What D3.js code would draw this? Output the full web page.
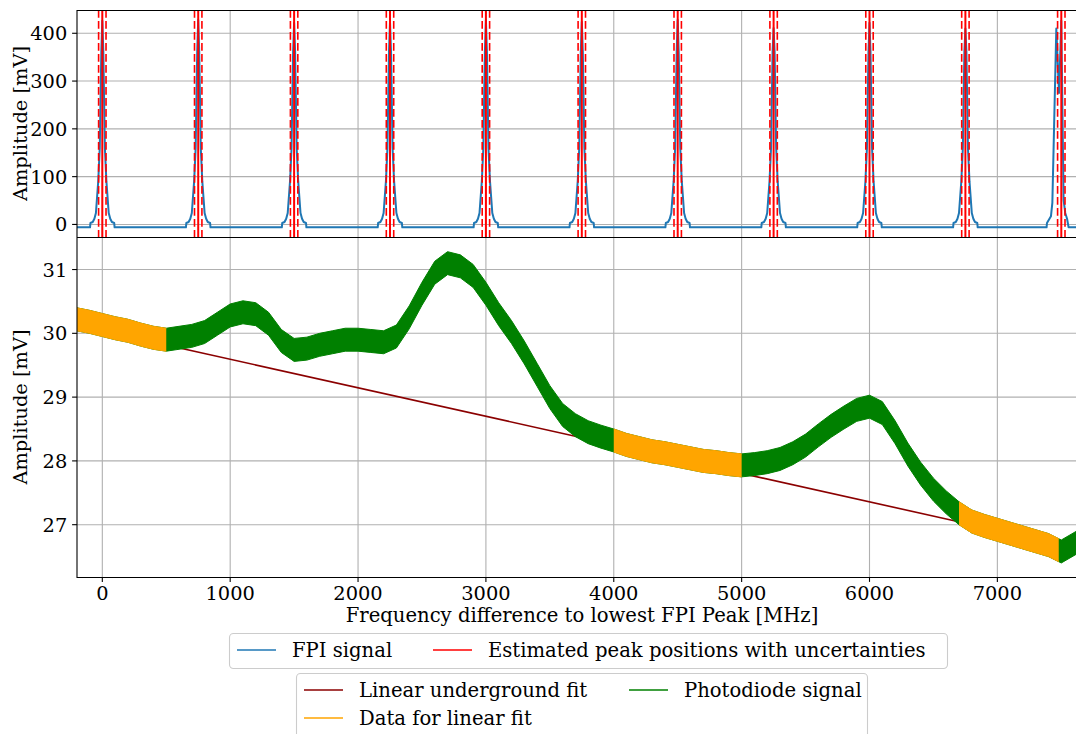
<!DOCTYPE html>
<html>
<head>
<meta charset="utf-8">
<script src="https://cdn.jsdelivr.net/npm/d3@7"></script>
<style>
	body { margin: 0; background: #fff; }
	text { font-family: "DejaVu Serif", serif; fill: #000; }
</style>
</head>
<body>
<div id="chart"></div>
<script>
// FPI transmission peaks (top panel)
const fpiBase = -6;
const peakPositions = [0, 750, 1500, 2250, 3000, 3750, 4500, 5250, 6000, 6750, 7500];
const peakUncertainty = [29, 29, 29, 29, 29, 29, 29, 29, 29, 29, 29];
const peakHeights = [426, 428, 422, 424, 428, 424, 428, 411, 422, 410];
// shape of one peak: offset from centre [MHz] and amplitude [mV]
const profileOffset = [-96, -93, -75, -62, -50, -32, -20, -8, 0, 8, 20, 32, 50, 62, 75, 93, 96];
const profileValue  = [-6, 3, 5, 12, 24, 90, 160, 360, 420, 360, 160, 90, 24, 12, 5, 3, -6];
// last peak is split in two
const lastPeakOffset = [-115, -112, -81, -70, -39, -18, 0, 18, 31, 45, 51, 57];
const lastPeakValue  = [-6, 3, 17, 45, 410, 275, 426, 51, 24, 12, 3, -6];

// photodiode signal (bottom panel), centre of the noisy band and its half spread
const pdFreq = [-200, -100, 0, 100, 200, 300, 400, 500, 600, 700, 800, 900, 1000, 1100, 1200, 1300, 1400, 1500,
	1600, 1700, 1800, 1900, 2000, 2100, 2200, 2300, 2400, 2500, 2600, 2700, 2800, 2900, 3000, 3100, 3200, 3300,
	3400, 3500, 3600, 3700, 3800, 3900, 4000, 4100, 4200, 4300, 4400, 4500, 4600, 4700, 4800, 4900, 5000, 5100,
	5200, 5300, 5400, 5500, 5600, 5700, 5800, 5900, 6000, 6100, 6200, 6300, 6400, 6500, 6600, 6700, 6800, 6900,
	7000, 7100, 7200, 7300, 7400, 7500, 7620];
const pdMid = [30.22, 30.18, 30.13, 30.08, 30.04, 29.98, 29.93, 29.90, 29.93, 29.96, 30.02, 30.15, 30.28, 30.33, 30.30, 30.15, 29.88, 29.74,
	29.76, 29.82, 29.86, 29.90, 29.90, 29.88, 29.86, 29.95, 30.25, 30.62, 30.95, 31.10, 31.05, 30.90, 30.62, 30.30, 30.02, 29.70,
	29.35, 29.00, 28.72, 28.56, 28.45, 28.38, 28.32, 28.25, 28.20, 28.15, 28.12, 28.08, 28.04, 28.00, 27.98, 27.95, 27.93, 27.95,
	27.98, 28.03, 28.12, 28.24, 28.40, 28.55, 28.68, 28.80, 28.85, 28.75, 28.45, 28.10, 27.80, 27.55, 27.35, 27.18, 27.05, 26.98,
	26.92, 26.86, 26.80, 26.74, 26.68, 26.58, 26.72];
const pdSpread = 0.18;
const fitRanges = [[-200, 500], [4000, 5000], [6700, 7480]];
// linear underground fit: value at 0 MHz and slope per MHz
const fitIntercept = 30.04;
const fitSlope = -0.000447;

const xTicks = [0, 1000, 2000, 3000, 4000, 5000, 6000, 7000];
const topTicks = [0, 100, 200, 300, 400];
const bottomTicks = [27, 28, 29, 30, 31];

const width = 1076, height = 734;
const left = 77, right = 1076;
const topY0 = 10, topY1 = 237, botY1 = 577;
const fs = 19.4;

const svg = d3.select('#chart').append('svg')
	.attr('width', width)
	.attr('height', height);
svg.append('rect').attr('width', width).attr('height', height).attr('fill', '#fff');

const x = d3.scaleLinear().domain([-198, 7615]).range([left, right]);
const yTop = d3.scaleLinear().domain([-26.3, 448.7]).range([topY1, topY0]);
const yBot = d3.scaleLinear().domain([26.18, 31.51]).range([botY1, topY1]);

const defs = svg.append('defs');
const addClip = (id, x0, y0, x1, y1) => {
	defs.append('clipPath').attr('id', id)
		.append('rect').attr('x', x0).attr('y', y0).attr('width', x1 - x0).attr('height', y1 - y0);
};
addClip('clip-top', left, topY0, right, topY1);
addClip('clip-bot', left, topY1, right, botY1);

// grids
const grid = (y, ticks, y0, y1) => {
	const g = svg.append('g');
	g.selectAll('.vg').data(xTicks).enter().append('line')
		.attr('x1', d => x(d)).attr('x2', d => x(d))
		.attr('y1', y0).attr('y2', y1)
		.attr('stroke', '#b0b0b0').attr('stroke-width', 1.1);
	g.selectAll('.hg').data(ticks).enter().append('line')
		.attr('x1', left).attr('x2', right)
		.attr('y1', d => y(d)).attr('y2', d => y(d))
		.attr('stroke', '#b0b0b0').attr('stroke-width', 1.1);
};
grid(yTop, topTicks, topY0, topY1);
grid(yBot, bottomTicks, topY1, botY1);

// top panel: FPI signal
const fpiPoints = [[-200, fpiBase]];
peakPositions.forEach((p, i) => {
	if (i < peakHeights.length) {
		profileOffset.forEach((o, j) => {
			fpiPoints.push([p + o, o === 0 ? peakHeights[i] : profileValue[j]]);
		});
	} else {
		lastPeakOffset.forEach((o, j) => fpiPoints.push([p + o, lastPeakValue[j]]));
	}
});
fpiPoints.push([7620, fpiBase]);

const topG = svg.append('g').attr('clip-path', 'url(#clip-top)');
topG.append('path')
	.datum(fpiPoints)
	.attr('d', d3.line().x(d => x(d[0])).y(d => yTop(d[1])))
	.attr('fill', 'none')
	.attr('stroke', '#1f77b4')
	.attr('stroke-width', 2)
	.attr('stroke-linejoin', 'round');

peakPositions.forEach((p, i) => {
	[p - peakUncertainty[i], p + peakUncertainty[i]].forEach(v => {
		topG.append('line')
			.attr('x1', x(v)).attr('x2', x(v))
			.attr('y1', topY0).attr('y2', topY1)
			.attr('stroke', 'red').attr('stroke-width', 1.6)
			.attr('stroke-dasharray', '7.7,3.3');
	});
	topG.append('line')
		.attr('x1', x(p)).attr('x2', x(p))
		.attr('y1', topY0).attr('y2', topY1)
		.attr('stroke', 'red').attr('stroke-width', 2);
});

// bottom panel
const botG = svg.append('g').attr('clip-path', 'url(#clip-bot)');
botG.append('line')
	.attr('x1', x(-200)).attr('x2', x(7620))
	.attr('y1', yBot(fitIntercept + fitSlope * -200))
	.attr('y2', yBot(fitIntercept + fitSlope * 7620))
	.attr('stroke', '#8b0000').attr('stroke-width', 1.6);

const pdData = pdFreq.map((f, i) => [f, pdMid[i]]);
const band = d3.area()
	.x(d => x(d[0]))
	.y0(d => yBot(d[1] - pdSpread))
	.y1(d => yBot(d[1] + pdSpread));

botG.append('path').datum(pdData)
	.attr('d', band)
	.attr('fill', 'green')
	.attr('stroke', 'green').attr('stroke-width', 1);

fitRanges.forEach((r, i) => {
	addClip('fit-' + i, x(r[0]), topY1, x(r[1]), botY1);
	botG.append('g').attr('clip-path', 'url(#fit-' + i + ')')
		.append('path').datum(pdData)
		.attr('d', band)
		.attr('fill', 'orange')
		.attr('stroke', 'orange').attr('stroke-width', 1);
});

// spines
const spine = (x1, y1, x2, y2) => svg.append('line')
	.attr('x1', x1).attr('y1', y1).attr('x2', x2).attr('y2', y2)
	.attr('stroke', '#000').attr('stroke-width', 1.1);
spine(left, topY0 + 0.5, right, topY0 + 0.5);
spine(left, topY1 + 0.5, right, topY1 + 0.5);
spine(left, botY1 + 0.5, right, botY1 + 0.5);
spine(left, topY0, left, botY1 + 1);

// y ticks
const yAxis = (y, ticks) => {
	const g = svg.append('g');
	g.selectAll('line').data(ticks).enter().append('line')
		.attr('x1', left - 4.9).attr('x2', left)
		.attr('y1', d => y(d)).attr('y2', d => y(d))
		.attr('stroke', '#000').attr('stroke-width', 1.1);
	g.selectAll('text').data(ticks).enter().append('text')
		.attr('x', left - 9.7)
		.attr('y', d => y(d))
		.attr('dy', '0.36em')
		.attr('text-anchor', 'end')
		.attr('font-size', fs)
		.text(d => d);
};
yAxis(yTop, topTicks);
yAxis(yBot, bottomTicks);

// x ticks
const xg = svg.append('g');
xg.selectAll('line').data(xTicks).enter().append('line')
	.attr('x1', d => x(d)).attr('x2', d => x(d))
	.attr('y1', botY1).attr('y2', botY1 + 4.9)
	.attr('stroke', '#000').attr('stroke-width', 1.1);
xg.selectAll('text').data(xTicks).enter().append('text')
	.attr('x', d => x(d))
	.attr('y', 600)
	.attr('text-anchor', 'middle')
	.attr('font-size', fs)
	.text(d => d);

svg.append('text')
	.attr('x', (left + 1075) / 2 + 6)
	.attr('y', 622)
	.attr('text-anchor', 'middle')
	.attr('font-size', 19.6)
	.text('Frequency difference to lowest FPI Peak [MHz]');

const yLabel = (cy) => svg.append('text')
	.attr('transform', `translate(27,${cy}) rotate(-90)`)
	.attr('text-anchor', 'middle')
	.attr('font-size', fs)
	.text('Amplitude [mV]');
yLabel((topY0 + topY1) / 2);
yLabel((topY1 + botY1) / 2);

// legends
const legendBox = (x0, y0, x1, y1) => svg.append('rect')
	.attr('x', x0 + 0.5).attr('y', y0 + 0.5)
	.attr('width', x1 - x0).attr('height', y1 - y0)
	.attr('rx', 4)
	.attr('fill', '#fff').attr('fill-opacity', 0.8)
	.attr('stroke', '#cccccc').attr('stroke-width', 1.1);
const legendItem = (hx, cy, color, label) => {
	svg.append('line')
		.attr('x1', hx).attr('x2', hx + 39)
		.attr('y1', cy).attr('y2', cy)
		.attr('stroke', color).attr('stroke-width', 1.6);
	svg.append('text')
		.attr('x', hx + 55)
		.attr('y', cy)
		.attr('dy', '0.36em')
		.attr('font-size', 19.6)
		.text(label);
};
legendBox(229, 633, 947, 668);
legendItem(237, 650, '#1f77b4', 'FPI signal');
legendItem(433, 650, 'red', 'Estimated peak positions with uncertainties');

legendBox(296, 673, 867, 745);
legendItem(304, 690, '#8b0000', 'Linear underground fit');
legendItem(304, 718, 'orange', 'Data for linear fit');
legendItem(629, 690, 'green', 'Photodiode signal');
</script>
</body>
</html>
